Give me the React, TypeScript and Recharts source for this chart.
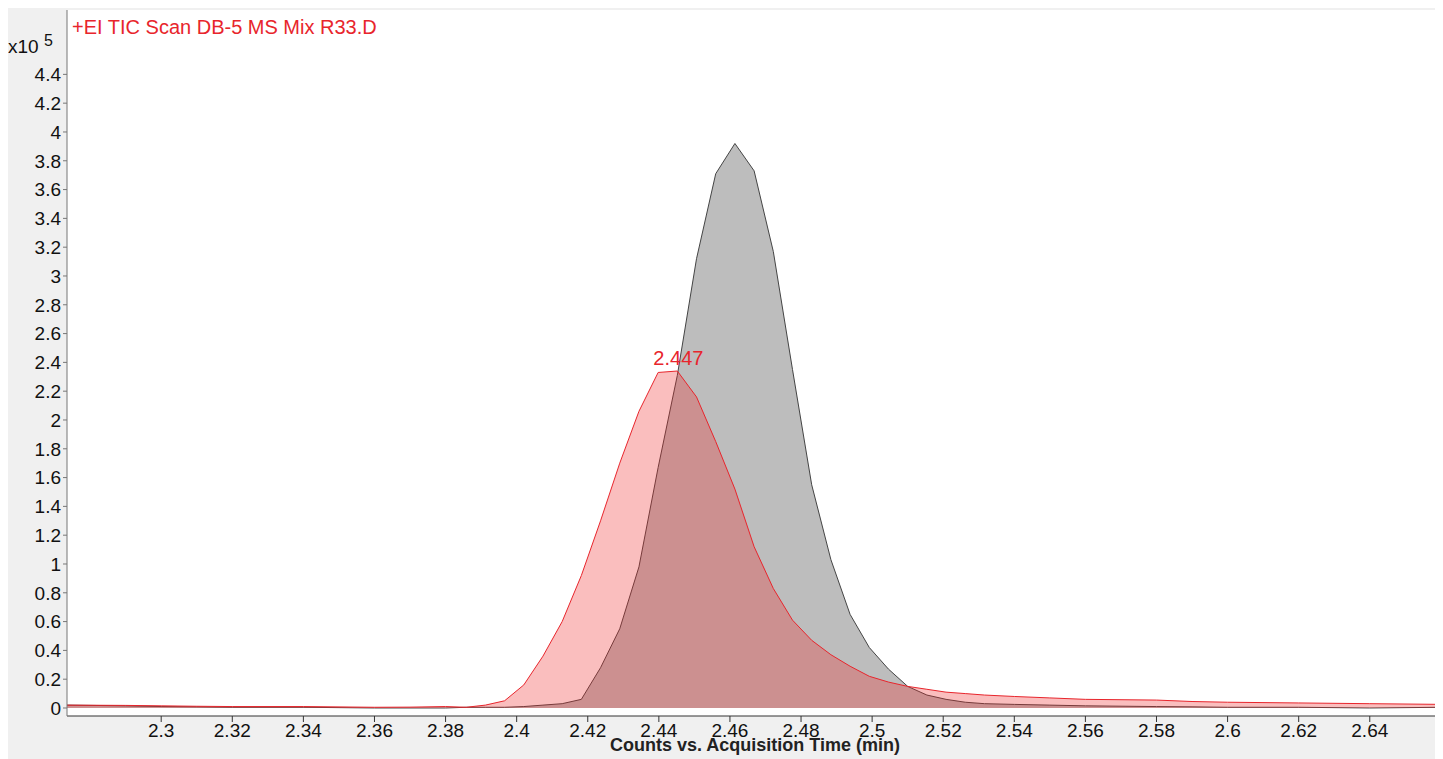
import React from "react";
import {
  Area,
  CartesianGrid,
  ComposedChart,
  ReferenceDot,
  XAxis,
  YAxis,
} from "recharts";

// retention time (min)
const TIMES = [
  2.2735, 2.29, 2.3, 2.31, 2.32, 2.34, 2.36, 2.37, 2.38, 2.3858, 2.3912, 2.3966,
  2.402, 2.4074, 2.4128, 2.4182, 2.4236, 2.429, 2.4344, 2.4398, 2.4452, 2.4506,
  2.456, 2.4614, 2.4668, 2.4722, 2.4776, 2.483, 2.4884, 2.4938, 2.4992, 2.5046,
  2.51, 2.5154, 2.5208, 2.5262, 2.5316, 2.54, 2.55, 2.56, 2.58, 2.59, 2.6, 2.62,
  2.64, 2.6606,
];

// counts x10^5
const GRAY = [
  0.02, 0.015, 0.01, 0.008, 0.005, 0.005, 0.0, 0.0, 0.0, 0.005, 0.005, 0.005,
  0.01, 0.02, 0.03, 0.06, 0.28, 0.55, 0.98, 1.67, 2.31, 3.12,
  3.71, 3.92, 3.73, 3.17, 2.35, 1.55, 1.03, 0.65, 0.42, 0.27,
  0.15, 0.09, 0.06, 0.04, 0.03, 0.025, 0.02, 0.015, 0.01, 0.008, 0.005, 0.005,
  0.0, 0.005,
];

const RED = [
  0.02, 0.018, 0.015, 0.012, 0.01, 0.01, 0.005, 0.006, 0.01, 0.005, 0.02, 0.05,
  0.16, 0.36, 0.6, 0.92, 1.3, 1.7, 2.06, 2.33, 2.34, 2.16,
  1.85, 1.52, 1.12, 0.83, 0.61, 0.47, 0.37, 0.29, 0.22, 0.18,
  0.15, 0.13, 0.11, 0.1, 0.09, 0.08, 0.07, 0.06, 0.055, 0.045, 0.04, 0.035,
  0.03, 0.025,
];

const X_TICKS = [
  2.3, 2.32, 2.34, 2.36, 2.38, 2.4, 2.42, 2.44, 2.46, 2.48, 2.5, 2.52, 2.54,
  2.56, 2.58, 2.6, 2.62, 2.64,
];
const Y_TICKS = [
  0, 0.2, 0.4, 0.6, 0.8, 1, 1.2, 1.4, 1.6, 1.8, 2, 2.2, 2.4, 2.6, 2.8, 3, 3.2,
  3.4, 3.6, 3.8, 4, 4.2, 4.4,
];

const data = TIMES.map((t, i) => ({ t, gray: GRAY[i], red: RED[i] }));

const font = "'Liberation Sans', Arial, sans-serif";

export default function App() {
  return (
    <div
      style={{
        position: "relative",
        width: 1435,
        height: 751,
        background: "#f0f0f0",
        fontFamily: font,
      }}
    >
      <ComposedChart
        width={1435}
        height={751}
        data={data}
        margin={{ top: 2, right: 0, bottom: 0, left: 0 }}
      >
        <CartesianGrid fill="#ffffff" horizontal={false} vertical={false} />
        <XAxis
          dataKey="t"
          type="number"
          domain={[2.2735, 2.6606]}
          ticks={X_TICKS}
          allowDataOverflow
          height={43}
          tickSize={6}
          stroke="#333"
          tick={{ fontSize: 19, fill: "#111", fontFamily: font }}
          tickFormatter={(v) => String(v)}
          label={{
            value: "Counts vs. Acquisition Time (min)",
            position: "insideBottom",
            offset: 8,
            fontSize: 18,
            fontWeight: "bold",
            fill: "#222",
            fontFamily: font,
          }}
        />
        <YAxis
          type="number"
          domain={[-0.0556, 4.847]}
          ticks={Y_TICKS}
          allowDataOverflow
          width={59}
          tickSize={4}
          stroke="#777"
          tick={{ fontSize: 19, fill: "#111", fontFamily: font }}
          tickFormatter={(v) => String(v)}
        />
        <Area
          dataKey="gray"
          type="linear"
          stroke="#444444"
          strokeWidth={1}
          fill="#bdbdbd"
          fillOpacity={1}
          isAnimationActive={false}
        />
        <Area
          dataKey="red"
          type="linear"
          stroke="#e8252c"
          strokeWidth={1}
          fill="rgb(240,40,40)"
          fillOpacity={0.3}
          isAnimationActive={false}
        />
        <ReferenceDot
          x={2.4455}
          y={2.34}
          r={0}
          stroke="none"
          label={{
            value: "2.447",
            position: "top",
            offset: 6,
            fontSize: 20,
            fill: "#e8252c",
            fontFamily: font,
          }}
        />
      </ComposedChart>
      <div
        style={{
          position: "absolute",
          left: 64,
          top: 8,
          color: "#e8252c",
          fontSize: 20,
          fontFamily: font,
        }}
      >
        +EI TIC Scan DB-5 MS Mix R33.D
      </div>
      <div
        style={{
          position: "absolute",
          left: 0,
          top: 24,
          color: "#111",
          fontSize: 19,
          fontFamily: font,
        }}
      >
        x10 <sup style={{ fontSize: 16 }}>5</sup>
      </div>
    </div>
  );
}
